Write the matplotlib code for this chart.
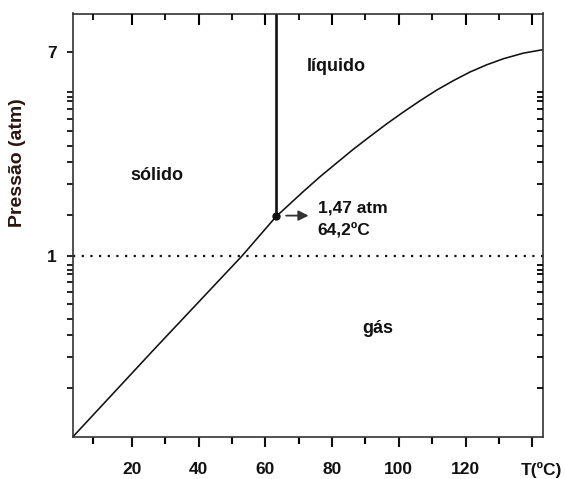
import matplotlib
matplotlib.use("Agg")
import matplotlib.pyplot as plt
from matplotlib.transforms import ScaledTranslation

plt.rcParams["font.family"] = ["Liberation Sans", "DejaVu Sans"]
plt.rcParams["font.weight"] = "bold"

# sublimation line (straight on the log axis) and vaporisation curve
t_sub = [2.3, 26.5, 53.0, 63.2]
p_sub = [0.178, 0.408, 1.0, 1.455]
t_vap = [63.2, 71.4, 76.4, 81.4, 86.4, 91.4, 96.4, 101.4, 106.4, 111.4,
         116.4, 121.3, 126.3, 131.3, 137.3, 143.3]
p_vap = [1.455, 1.85, 2.13, 2.43, 2.77, 3.13, 3.53, 3.95, 4.40, 4.87,
         5.33, 5.78, 6.19, 6.56, 6.92, 7.16]

t_triple = 63.2
p_triple = 1.47

x_major = [20, 40, 60, 80, 100, 120, 140]
x_labels = ["20", "40", "60", "80", "100", "120", "T(ºC)"]
x_minor = [8.3, 30, 50, 70, 90, 110, 130]
y_major = [1, 7]
y_minor = [0.285, 0.383, 0.470, 0.550, 0.633, 0.711, 0.783, 0.844, 0.878, 0.918,
           1.48, 1.99, 2.44, 2.86, 3.29, 3.69, 4.07, 4.38, 4.56, 4.77]

xlim = (2.3, 143.1)
ylim = (0.178, 10.1)
ink = "#111111"

fig = plt.figure(figsize=(5.66, 4.79), dpi=100)
ax = fig.add_axes([72.7 / 566, 42 / 479, 470 / 566, 423.5 / 479])
ax.set_yscale("log")
ax.set_xlim(xlim)
ax.set_ylim(ylim)

ax.plot(t_sub, p_sub, color=ink, lw=1.15)
ax.plot(t_vap, p_vap, color=ink, lw=1.15)
ax.plot([t_triple, t_triple], [p_triple, ylim[1]], color=ink, lw=1.9)
ax.axhline(1, color=ink, lw=1.6, linestyle=(0, (1, 2.9)))
ax.plot([t_triple], [p_triple], "o", color=ink, ms=5)
ax.annotate("", xy=(73.8, p_triple), xytext=(65.4, p_triple),
            arrowprops=dict(arrowstyle="-|>", color="#333333", lw=1.3,
                            mutation_scale=15))

lab = dict(fontsize=12.5, color=ink, va="center")
ax.text(75.7, 1.58, "1,47 atm", ha="left", **lab)
ax.text(75.7, 1.28, "64,2ºC", ha="left", **lab)
ax.text(81.3, 6.08, "líquido", ha="center", fontsize=13, color=ink, va="center")
ax.text(27.5, 2.145, "sólido", ha="center", fontsize=13, color=ink, va="center")
ax.text(93.8, 0.503, "gás", ha="center", fontsize=13, color=ink, va="center")

for s in ax.spines.values():
    s.set_color("#333333")
    s.set_linewidth(1.2)

# bottom / left ticks point outward
ax.set_xticks(x_major)
ax.set_xticklabels(x_labels, fontsize=12.5, fontweight="bold")
ax.set_xticks(x_minor, minor=True)
ax.set_yticks(y_major)
ax.set_yticklabels(["1", "7"], fontsize=12.5, fontweight="bold")
ax.set_yticks(y_minor, minor=True)
ax.yaxis.set_minor_formatter(plt.NullFormatter())
ax.tick_params(axis="x", which="major", direction="out", length=7, width=1.5,
               pad=11, colors=ink)
ax.tick_params(axis="x", which="minor", direction="out", length=5, width=1.5)
ax.tick_params(axis="y", which="both", direction="out", length=4.5, width=1.3,
               pad=7, colors=ink)
last = ax.get_xticklabels()[-1]
last.set_transform(last.get_transform() + ScaledTranslation(0.09, 0, fig.dpi_scale_trans))

# top / right ticks point inward
top = ax.twiny()
top.set_xlim(xlim)
top.set_xticks(x_major)
top.set_xticks(x_minor, minor=True)
top.tick_params(axis="x", which="major", direction="in", length=8, width=1.5,
                labeltop=False)
top.tick_params(axis="x", which="minor", direction="in", length=4.5, width=1.3)
right = ax.twinx()
right.set_yscale("log")
right.set_ylim(ylim)
right.set_yticks([])
right.set_yticks(y_minor, minor=True)
right.yaxis.set_minor_formatter(plt.NullFormatter())
right.tick_params(axis="y", which="minor", direction="in", length=4, width=1.3)
for a in (top, right):
    for s in a.spines.values():
        s.set_visible(False)

fig.text(18 / 566, 1 - 163 / 479, "Pressão (atm)", rotation=90, fontsize=14,
         fontweight="bold", color="#2a1510", ha="center", va="center")

fig.savefig("out.png", dpi=100)
